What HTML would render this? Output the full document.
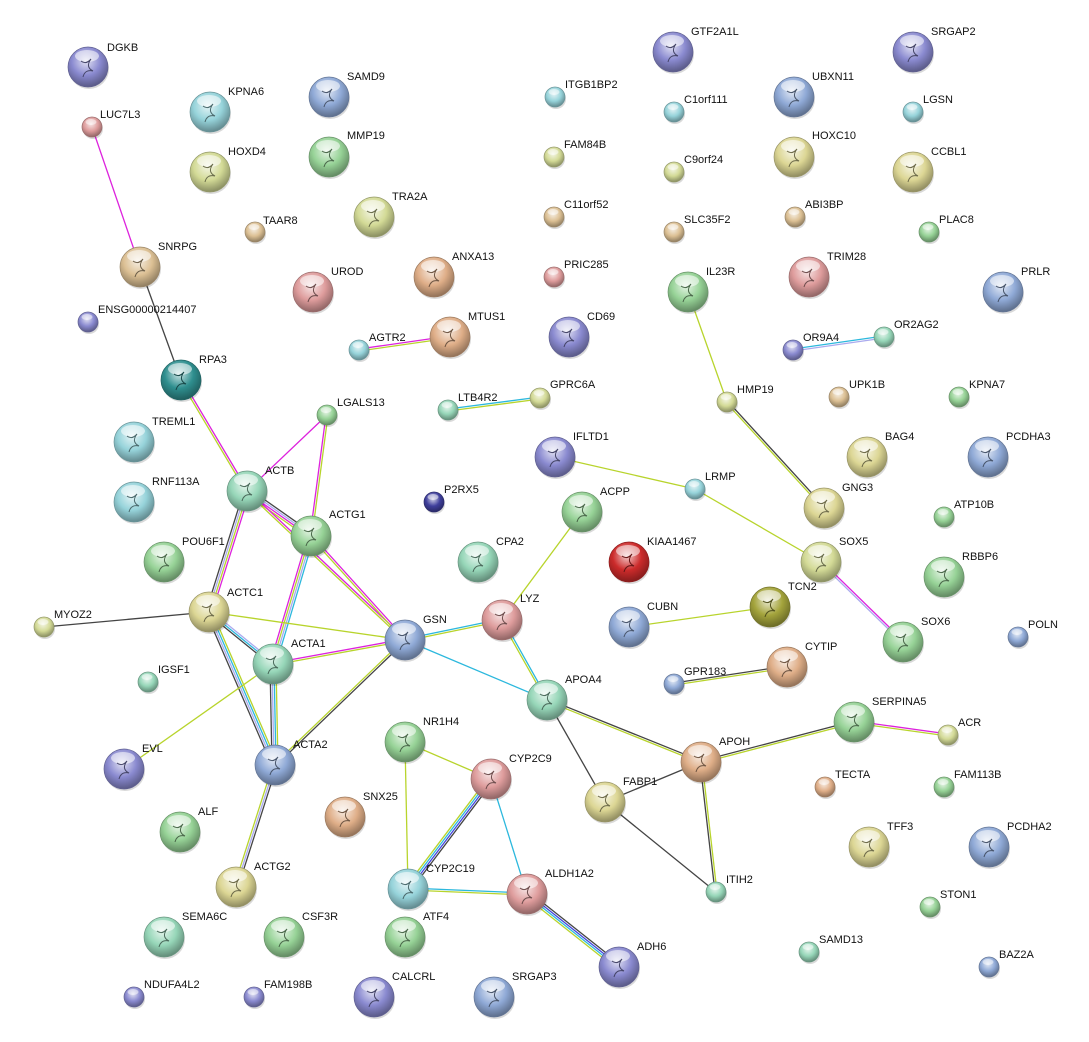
<!DOCTYPE html>
<html><head><meta charset="utf-8">
<style>
html,body{margin:0;padding:0;background:#fff;}
svg{display:block;}
text{font-family:"Liberation Sans",Arial,sans-serif;font-size:11px;fill:#111;}
</style></head>
<body>
<svg id="s" width="1089" height="1042" viewBox="0 0 1089 1042" xmlns="http://www.w3.org/2000/svg">
<defs id="d"></defs>
<g id="edges"></g>
<g id="nodes"></g>
<g id="labels">
<text x="107" y="51">DGKB</text>
<text x="100" y="118">LUC7L3</text>
<text x="228" y="95">KPNA6</text>
<text x="347" y="80">SAMD9</text>
<text x="228" y="155">HOXD4</text>
<text x="347" y="139">MMP19</text>
<text x="392" y="200">TRA2A</text>
<text x="263" y="224">TAAR8</text>
<text x="158" y="250">SNRPG</text>
<text x="331" y="275">UROD</text>
<text x="452" y="260">ANXA13</text>
<text x="98" y="313">ENSG00000214407</text>
<text x="369" y="341">AGTR2</text>
<text x="468" y="320">MTUS1</text>
<text x="587" y="320">CD69</text>
<text x="199" y="363">RPA3</text>
<text x="337" y="406">LGALS13</text>
<text x="458" y="401">LTB4R2</text>
<text x="550" y="388">GPRC6A</text>
<text x="152" y="425">TREML1</text>
<text x="265" y="474">ACTB</text>
<text x="152" y="485">RNF113A</text>
<text x="329" y="518">ACTG1</text>
<text x="444" y="493">P2RX5</text>
<text x="573" y="440">IFLTD1</text>
<text x="705" y="480">LRMP</text>
<text x="600" y="495">ACPP</text>
<text x="182" y="545">POU6F1</text>
<text x="496" y="545">CPA2</text>
<text x="647" y="545">KIAA1467</text>
<text x="227" y="596">ACTC1</text>
<text x="54" y="618">MYOZ2</text>
<text x="423" y="623">GSN</text>
<text x="520" y="602">LYZ</text>
<text x="647" y="610">CUBN</text>
<text x="291" y="647">ACTA1</text>
<text x="158" y="673">IGSF1</text>
<text x="565" y="683">APOA4</text>
<text x="684" y="675">GPR183</text>
<text x="805" y="650">CYTIP</text>
<text x="788" y="590">TCN2</text>
<text x="839" y="545">SOX5</text>
<text x="921" y="625">SOX6</text>
<text x="1028" y="628">POLN</text>
<text x="962" y="560">RBBP6</text>
<text x="954" y="508">ATP10B</text>
<text x="842" y="491">GNG3</text>
<text x="885" y="440">BAG4</text>
<text x="1006" y="440">PCDHA3</text>
<text x="969" y="388">KPNA7</text>
<text x="849" y="388">UPK1B</text>
<text x="737" y="393">HMP19</text>
<text x="803" y="341">OR9A4</text>
<text x="894" y="328">OR2AG2</text>
<text x="706" y="275">IL23R</text>
<text x="827" y="260">TRIM28</text>
<text x="1021" y="275">PRLR</text>
<text x="939" y="223">PLAC8</text>
<text x="805" y="208">ABI3BP</text>
<text x="684" y="223">SLC35F2</text>
<text x="931" y="155">CCBL1</text>
<text x="812" y="139">HOXC10</text>
<text x="923" y="103">LGSN</text>
<text x="812" y="80">UBXN11</text>
<text x="931" y="35">SRGAP2</text>
<text x="691" y="35">GTF2A1L</text>
<text x="684" y="103">C1orf111</text>
<text x="684" y="163">C9orf24</text>
<text x="565" y="88">ITGB1BP2</text>
<text x="564" y="148">FAM84B</text>
<text x="564" y="208">C11orf52</text>
<text x="564" y="268">PRIC285</text>
<text x="719" y="745">APOH</text>
<text x="872" y="705">SERPINA5</text>
<text x="958" y="726">ACR</text>
<text x="835" y="778">TECTA</text>
<text x="954" y="778">FAM113B</text>
<text x="623" y="785">FABP1</text>
<text x="726" y="883">ITIH2</text>
<text x="887" y="830">TFF3</text>
<text x="1007" y="830">PCDHA2</text>
<text x="940" y="898">STON1</text>
<text x="819" y="943">SAMD13</text>
<text x="999" y="958">BAZ2A</text>
<text x="423" y="725">NR1H4</text>
<text x="509" y="762">CYP2C9</text>
<text x="363" y="800">SNX25</text>
<text x="142" y="752">EVL</text>
<text x="293" y="748">ACTA2</text>
<text x="198" y="815">ALF</text>
<text x="426" y="872">CYP2C19</text>
<text x="545" y="877">ALDH1A2</text>
<text x="254" y="870">ACTG2</text>
<text x="182" y="920">SEMA6C</text>
<text x="302" y="920">CSF3R</text>
<text x="423" y="920">ATF4</text>
<text x="637" y="950">ADH6</text>
<text x="144" y="988">NDUFA4L2</text>
<text x="264" y="988">FAM198B</text>
<text x="392" y="980">CALCRL</text>
<text x="512" y="980">SRGAP3</text>
</g>
</svg>
<script>
var C={pu:"#8a8ad0",cy:"#96d3da",bl:"#8fa9d6",yg:"#d3da96",gr:"#96d296",ta:"#dcc094",pk:"#de9c9c",or:"#dfae88",kh:"#dcd694",te:"#2f8f8f",re:"#cc2b2b",na:"#3f3f9c",ol:"#a4a43c",gc:"#96d6b8"};
var N={DGKB:[88,67,20,"pu"],LUC7L3:[92,127,10,"pk"],KPNA6:[210,112,20,"cy"],SAMD9:[329,97,20,"bl"],HOXD4:[210,172,20,"yg"],MMP19:[329,157,20,"gr"],TRA2A:[374,217,20,"yg"],TAAR8:[255,232,10,"ta"],SNRPG:[140,267,20,"ta"],UROD:[313,292,20,"pk"],ANXA13:[434,277,20,"or"],ENSG:[88,322,10,"pu"],AGTR2:[359,350,10,"cy"],MTUS1:[450,337,20,"or"],CD69:[569,337,20,"pu"],RPA3:[181,380,20,"te"],LGALS13:[327,415,10,"gr"],LTB4R2:[448,410,10,"gc"],GPRC6A:[540,398,10,"yg"],TREML1:[134,442,20,"cy"],ACTB:[247,491,20,"gc"],RNF113A:[134,502,20,"cy"],ACTG1:[311,536,20,"gr"],P2RX5:[434,502,10,"na"],IFLTD1:[555,457,20,"pu"],LRMP:[695,489,10,"cy"],ACPP:[582,512,20,"gr"],POU6F1:[164,562,20,"gr"],CPA2:[478,562,20,"gc"],KIAA1467:[629,562,20,"re"],ACTC1:[209,612,20,"kh"],MYOZ2:[44,627,10,"yg"],GSN:[405,640,20,"bl"],LYZ:[502,620,20,"pk"],CUBN:[629,627,20,"bl"],ACTA1:[273,664,20,"gc"],IGSF1:[148,682,10,"gc"],APOA4:[547,700,20,"gc"],GPR183:[674,684,10,"bl"],CYTIP:[787,667,20,"or"],TCN2:[770,607,20,"ol"],SOX5:[821,562,20,"yg"],SOX6:[903,642,20,"gr"],POLN:[1018,637,10,"bl"],RBBP6:[944,577,20,"gr"],ATP10B:[944,517,10,"gr"],GNG3:[824,508,20,"kh"],BAG4:[867,457,20,"kh"],PCDHA3:[988,457,20,"bl"],KPNA7:[959,397,10,"gr"],UPK1B:[839,397,10,"ta"],HMP19:[727,402,10,"yg"],OR9A4:[793,350,10,"pu"],OR2AG2:[884,337,10,"gc"],IL23R:[688,292,20,"gr"],TRIM28:[809,277,20,"pk"],PRLR:[1003,292,20,"bl"],PLAC8:[929,232,10,"gr"],ABI3BP:[795,217,10,"ta"],SLC35F2:[674,232,10,"ta"],CCBL1:[913,172,20,"kh"],HOXC10:[794,157,20,"kh"],LGSN:[913,112,10,"cy"],UBXN11:[794,97,20,"bl"],SRGAP2:[913,52,20,"pu"],GTF2A1L:[673,52,20,"pu"],C1orf111:[674,112,10,"cy"],C9orf24:[674,172,10,"yg"],ITGB1BP2:[555,97,10,"cy"],FAM84B:[554,157,10,"yg"],C11orf52:[554,217,10,"ta"],PRIC285:[554,277,10,"pk"],APOH:[701,762,20,"or"],SERPINA5:[854,722,20,"gr"],ACR:[948,735,10,"yg"],TECTA:[825,787,10,"or"],FAM113B:[944,787,10,"gr"],FABP1:[605,802,20,"kh"],ITIH2:[716,892,10,"gc"],TFF3:[869,847,20,"kh"],PCDHA2:[989,847,20,"bl"],STON1:[930,907,10,"gr"],SAMD13:[809,952,10,"gc"],BAZ2A:[989,967,10,"bl"],NR1H4:[405,742,20,"gr"],CYP2C9:[491,779,20,"pk"],SNX25:[345,817,20,"or"],EVL:[124,769,20,"pu"],ACTA2:[275,765,20,"bl"],ALF:[180,832,20,"gr"],CYP2C19:[408,889,20,"cy"],ALDH1A2:[527,894,20,"pk"],ACTG2:[236,887,20,"kh"],SEMA6C:[164,937,20,"gc"],CSF3R:[284,937,20,"gr"],ATF4:[405,937,20,"gr"],ADH6:[619,967,20,"pu"],NDUFA4L2:[134,997,10,"pu"],FAM198B:[254,997,10,"pu"],CALCRL:[374,997,20,"pu"],SRGAP3:[494,997,20,"bl"]};
var K={m:"#dd22dd",y:"#b8d42c",d:"#444",c:"#2cb8dd",b:"#4444dd",l:"#aaaaee"};
var E=[["LUC7L3","SNRPG","m"],["SNRPG","RPA3","d"],["RPA3","ACTB","my"],["LGALS13","ACTB","m"],["LGALS13","ACTG1","ym"],["ACTB","ACTG1","dlmy"],["ACTB","GSN","my"],["ACTB","ACTC1","myld"],["ACTG1","ACTA1","clym"],["ACTG1","GSN","my"],["MYOZ2","ACTC1","d"],["ACTC1","GSN","y"],["ACTC1","ACTA1","lcd"],["ACTC1","ACTA2","ycld"],["ACTA1","GSN","my"],["ACTA1","ACTA2","ycld"],["EVL","ACTA1","y"],["ACTA2","GSN","yd"],["ACTA2","ACTG2","dly"],["GSN","LYZ","cy"],["GSN","APOA4","c"],["LYZ","ACPP","y"],["LYZ","APOA4","cy"],["APOA4","APOH","dy"],["APOA4","FABP1","d"],["APOH","FABP1","d"],["APOH","ITIH2","yd"],["APOH","SERPINA5","dy"],["FABP1","ITIH2","d"],["SERPINA5","ACR","my"],["IFLTD1","LRMP","y"],["LRMP","SOX5","y"],["IL23R","HMP19","y"],["HMP19","GNG3","dy"],["SOX5","SOX6","ml"],["TCN2","CUBN","y"],["CYTIP","GPR183","yd"],["OR9A4","OR2AG2","cl"],["LTB4R2","GPRC6A","cy"],["AGTR2","MTUS1","my"],["NR1H4","CYP2C9","y"],["NR1H4","CYP2C19","y"],["CYP2C9","CYP2C19","dbcy"],["CYP2C9","ALDH1A2","c"],["CYP2C19","ALDH1A2","cy"],["ALDH1A2","ADH6","dbcy"]];
var ns="http://www.w3.org/2000/svg";
function el(t,a,p){var e=document.createElementNS(ns,t);for(var k in a)e.setAttribute(k,a[k]);p.appendChild(e);return e;}
var D=document.getElementById("d"),G=document.getElementById("edges"),NG=document.getElementById("nodes");
function shade(h,f){var n=parseInt(h.slice(1),16),r=n>>16,g=(n>>8)&255,b=n&255;function m(v){return Math.max(0,Math.min(255,Math.round(f<0?v*(1+f):v+(255-v)*f)));}return "rgb("+m(r)+","+m(g)+","+m(b)+")";}
for(var k in C){var g=el("radialGradient",{id:"g"+k,cx:"0.45",cy:"0.35",r:"0.65"},D);
el("stop",{offset:"0","stop-color":shade(C[k],0.75)},g);el("stop",{offset:"0.55","stop-color":C[k]},g);el("stop",{offset:"1","stop-color":shade(C[k],-0.35)},g);}
E.forEach(function(e){var a=N[e[0]],b=N[e[1]],cs=e[2],dx=b[0]-a[0],dy=b[1]-a[1],L=Math.hypot(dx,dy),px=-dy/L,py=dx/L,n=cs.length;
for(var i=0;i<n;i++){var o=(i-(n-1)/2)*2;el("line",{x1:a[0]+px*o,y1:a[1]+py*o,x2:b[0]+px*o,y2:b[1]+py*o,stroke:K[cs[i]],"stroke-width":1.3},G);}});
for(var k in N){var v=N[k];el("circle",{cx:v[0]+1,cy:v[1]+2,r:v[2],fill:"rgba(0,0,0,0.15)"},NG);
el("circle",{cx:v[0],cy:v[1],r:v[2],fill:"url(#g"+v[3]+")",stroke:shade(C[v[3]],-0.3),"stroke-width":0.7},NG);
if(v[2]>15){el("ellipse",{cx:v[0]-1,cy:v[1]-v[2]*0.55,rx:v[2]*0.6,ry:v[2]*0.3,fill:"rgba(255,255,255,0.55)"},NG);
el("path",{d:"M"+(v[0]-7)+" "+(v[1]-6)+" q5 4 10 -2 q-6 8 2 12 q-8 -2 -10 6",fill:"none",stroke:shade(C[v[3]],-0.5),"stroke-width":1},NG);}
else el("ellipse",{cx:v[0]-1,cy:v[1]-v[2]*0.5,rx:v[2]*0.55,ry:v[2]*0.3,fill:"rgba(255,255,255,0.5)"},NG);}
</script>
</body></html>
